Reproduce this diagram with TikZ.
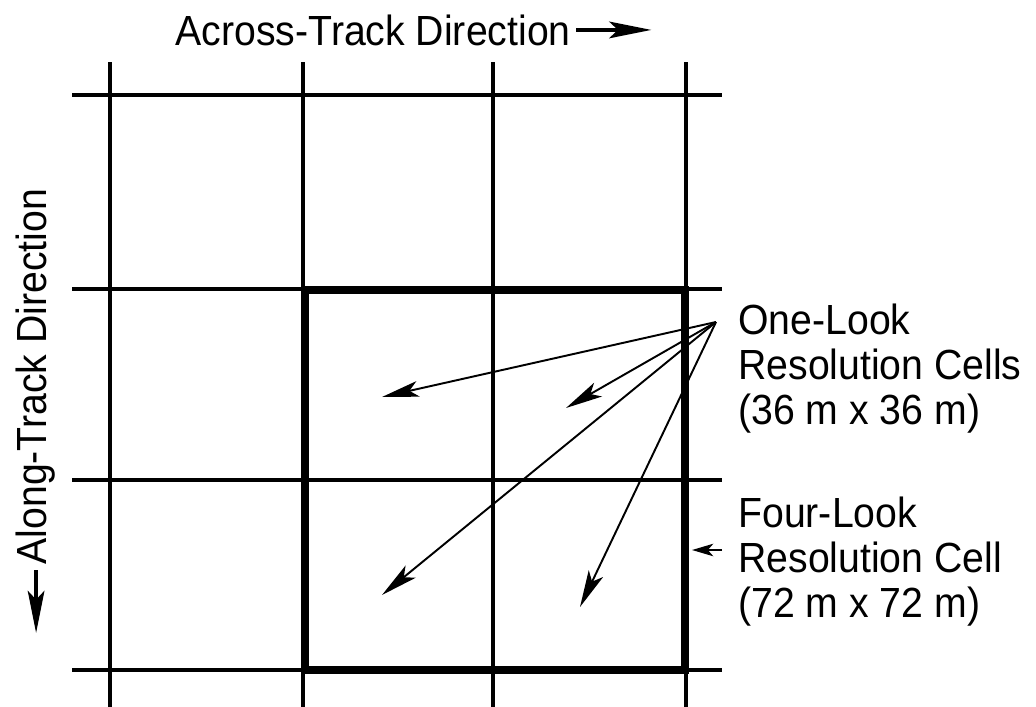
\documentclass[tikz,border=0pt]{standalone}
\usepackage{fontspec}
\setmainfont{Liberation Sans}[FakeStretch=0.93]
\usetikzlibrary{arrows.meta,positioning}
\tikzset{
  gridline/.style={line width=2pt,black},
  cellbox/.style={line width=4pt,black},
  pointer/.style={-{Stealth[length=21pt,width=9pt,inset=5pt]},line width=1.1pt},
  smallpointer/.style={-{Stealth[length=12pt,width=7pt,inset=3pt]},line width=1.6pt},
  dirarrow/.style={-{Stealth[length=24pt,width=9.5pt,inset=5pt]},line width=2pt},
  tag/.style={font=\fontsize{24}{25.5}\selectfont,inner sep=0pt,align=left},
}

\begin{document}
\begin{tikzpicture}[x=0.02cm,y=-0.02cm]
  \useasboundingbox (0,0) rectangle (1036,707);

  % Grid of one-look cells
  \foreach \x in {110,303,493,686}
    \draw[gridline] (\x,62) -- (\x,707);
  \foreach \y in {95,289,480,670}
    \draw[gridline] (72,\y) -- (722,\y);

  % Four-look cell (2 x 2 block)
  \draw[cellbox] (305,290) rectangle (685,670);

  % Direction labels
  \node[tag,inner sep=3pt,anchor=base west] (across) at (170,45)
    {Across-Track Direction};
  \path (across.east) ++(75,0) coordinate (acrossend);
  \draw[dirarrow] (across.east) -- (acrossend);

  \node[tag,inner sep=3pt,rotate=90,anchor=base west] (along) at (47,570)
    {Along-Track Direction};
  \path (along.west) ++(0,63) coordinate (alongend);
  \draw[dirarrow] (along.west) -- (alongend);

  % Pointers to the one-look cells
  \coordinate (hub) at (716,322);
  \coordinate (cellA) at (382,397);
  \coordinate (cellB) at (566,408);
  \coordinate (cellC) at (382,595);
  \coordinate (cellD) at (580,607);
  \foreach \c in {cellA,cellB,cellC,cellD}
    \draw[pointer] (hub) -- (\c);

  % Right-hand labels
  \node[tag,anchor=north west] (onelook) at (738,304)
    {One-Look\\Resolution Cells\\(36 m x 36 m)};
  \node[tag,anchor=north west] (fourlook) at (738,497)
    {Four-Look\\Resolution Cell\\(72 m x 72 m)};
  \coordinate (fourtail) at (722,550);
  \coordinate (fourtip) at (692,550);
  \draw[smallpointer] (fourtail) -- (fourtip);
\end{tikzpicture}
\end{document}
